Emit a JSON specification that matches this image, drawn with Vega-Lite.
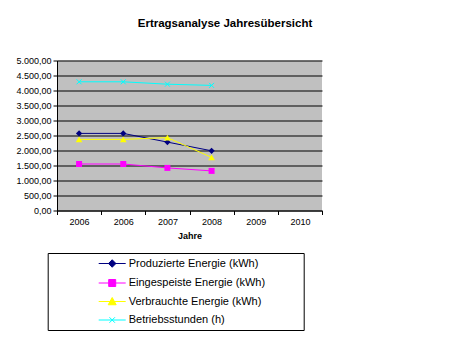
{
  "$schema": "https://vega.github.io/schema/vega-lite/v6.json",
  "autosize": "none",
  "width": 265,
  "height": 150,
  "padding": {"left": 57, "top": 60.5, "right": 128, "bottom": 136.5},
  "background": "white",
  "title": {
    "text": "Ertragsanalyse Jahresübersicht",
    "fontSize": 11.5,
    "fontWeight": "bold",
    "color": "black",
    "anchor": "middle",
    "frame": "group",
    "dx": 35.5,
    "offset": 27
  },
  "data": {
    "values": [
      {"kategorie": "2006-1", "serie": "Produzierte Energie (kWh)", "wert": 2570},
      {"kategorie": "2006-2", "serie": "Produzierte Energie (kWh)", "wert": 2570},
      {"kategorie": "2007", "serie": "Produzierte Energie (kWh)", "wert": 2280},
      {"kategorie": "2008", "serie": "Produzierte Energie (kWh)", "wert": 1990},
      {"kategorie": "2006-1", "serie": "Eingespeiste Energie (kWh)", "wert": 1550},
      {"kategorie": "2006-2", "serie": "Eingespeiste Energie (kWh)", "wert": 1550},
      {"kategorie": "2007", "serie": "Eingespeiste Energie (kWh)", "wert": 1420},
      {"kategorie": "2008", "serie": "Eingespeiste Energie (kWh)", "wert": 1320},
      {"kategorie": "2006-1", "serie": "Verbrauchte Energie (kWh)", "wert": 2370},
      {"kategorie": "2006-2", "serie": "Verbrauchte Energie (kWh)", "wert": 2370},
      {"kategorie": "2007", "serie": "Verbrauchte Energie (kWh)", "wert": 2430},
      {"kategorie": "2008", "serie": "Verbrauchte Energie (kWh)", "wert": 1770},
      {"kategorie": "2006-1", "serie": "Betriebsstunden (h)", "wert": 4290},
      {"kategorie": "2006-2", "serie": "Betriebsstunden (h)", "wert": 4290},
      {"kategorie": "2007", "serie": "Betriebsstunden (h)", "wert": 4210},
      {"kategorie": "2008", "serie": "Betriebsstunden (h)", "wert": 4170}
    ]
  },
  "encoding": {
    "x": {
      "field": "kategorie",
      "type": "ordinal",
      "sort": null,
      "scale": {
        "type": "band",
        "domain": ["2006-1", "2006-2", "2007", "2008", "2009", "2010"],
        "paddingInner": 0,
        "paddingOuter": 0
      },
      "axis": {
        "title": "Jahre",
        "titleFontWeight": "bold",
        "titleFontSize": 9,
        "titleColor": "black",
        "titlePadding": 5,
        "labelExpr": "slice(datum.label, 0, 4)",
        "labelAngle": 0,
        "labelFontSize": 9,
        "labelColor": "black",
        "labelPadding": 3,
        "tickBand": "extent",
        "tickSize": 4,
        "tickColor": "black",
        "domainColor": "black",
        "grid": false
      }
    },
    "y": {
      "field": "wert",
      "type": "quantitative",
      "scale": {"domain": [0, 5000], "nice": false, "zero": true},
      "axis": {
        "title": null,
        "values": [0, 500, 1000, 1500, 2000, 2500, 3000, 3500, 4000, 4500, 5000],
        "labelExpr": "replace(replace(replace(format(datum.value, ',.2f'), ',', '#'), '.', ','), '#', '.')",
        "labelFontSize": 9,
        "labelColor": "black",
        "labelPadding": 2,
        "tickSize": 4,
        "tickColor": "black",
        "domainColor": "black",
        "grid": true,
        "gridColor": "black",
        "gridOpacity": 1,
        "gridWidth": 1
      }
    },
    "color": {
      "field": "serie",
      "type": "nominal",
      "scale": {
        "domain": ["Produzierte Energie (kWh)", "Eingespeiste Energie (kWh)", "Verbrauchte Energie (kWh)", "Betriebsstunden (h)"],
        "range": ["#000080", "#FF00FF", "#FFFF00", "#00FFFF"]
      },
      "legend": {
        "title": null,
        "orient": "none",
        "legendX": -9.3,
        "legendY": 192.5,
        "padding": 5,
        "strokeColor": "black",
        "fillColor": "white",
        "symbolType": "M-2.7,0H2.7",
        "symbolSize": 100,
        "symbolOffset": 54,
        "labelOffset": 11,
        "labelFontSize": 11,
        "labelColor": "black",
        "labelLimit": 400,
        "rowPadding": 6.5,
        "labelExpr": "datum.label + '\u00a0\u00a0\u00a0\u00a0\u00a0\u00a0\u00a0\u00a0\u00a0\u00a0\u00a0\u200b'",
        "encode": {
          "symbols": {
            "update": {
              "shape": {"signal": "datum.value === 'Produzierte Energie (kWh)' ? 'M-2.7,0H2.7M0,-0.75L0.75,0L0,0.75L-0.75,0Z' : datum.value === 'Eingespeiste Energie (kWh)' ? 'M-2.7,0H2.7M-0.7,-0.7H0.7V0.7H-0.7Z' : datum.value === 'Verbrauchte Energie (kWh)' ? 'M-2.7,0H2.7M0,-0.8L0.8,0.65H-0.8Z' : 'M-2.7,0H2.7M-0.55,-0.55L0.55,0.55M-0.55,0.55L0.55,-0.55'"},
              "fill": {"scale": "color", "field": "value"},
              "stroke": {"scale": "color", "field": "value"},
              "strokeWidth": {"value": 1},
              "opacity": {"value": 1},
              "fillOpacity": {"value": 1},
              "strokeOpacity": {"value": 1}
            }
          }
        }
      }
    }
  },
  "layer": [
    {"mark": {"type": "line", "strokeWidth": 1}},
    {
      "transform": [{"filter": "datum.serie === 'Produzierte Energie (kWh)'"}],
      "mark": {"type": "point", "shape": "diamond", "filled": true, "opacity": 1, "size": 40}
    },
    {
      "transform": [{"filter": "datum.serie === 'Eingespeiste Energie (kWh)'"}],
      "mark": {"type": "point", "shape": "square", "filled": true, "opacity": 1, "size": 36}
    },
    {
      "transform": [{"filter": "datum.serie === 'Verbrauchte Energie (kWh)'"}],
      "mark": {"type": "point", "shape": "triangle-up", "filled": true, "opacity": 1, "size": 45}
    },
    {
      "transform": [{"filter": "datum.serie === 'Betriebsstunden (h)'"}],
      "mark": {"type": "point", "shape": "M-1,-1L1,1M-1,1L1,-1", "filled": false, "opacity": 1, "size": 25, "strokeWidth": 1}
    }
  ],
  "config": {
    "font": "Liberation Sans",
    "view": {"fill": "#C0C0C0", "stroke": null}
  }
}
